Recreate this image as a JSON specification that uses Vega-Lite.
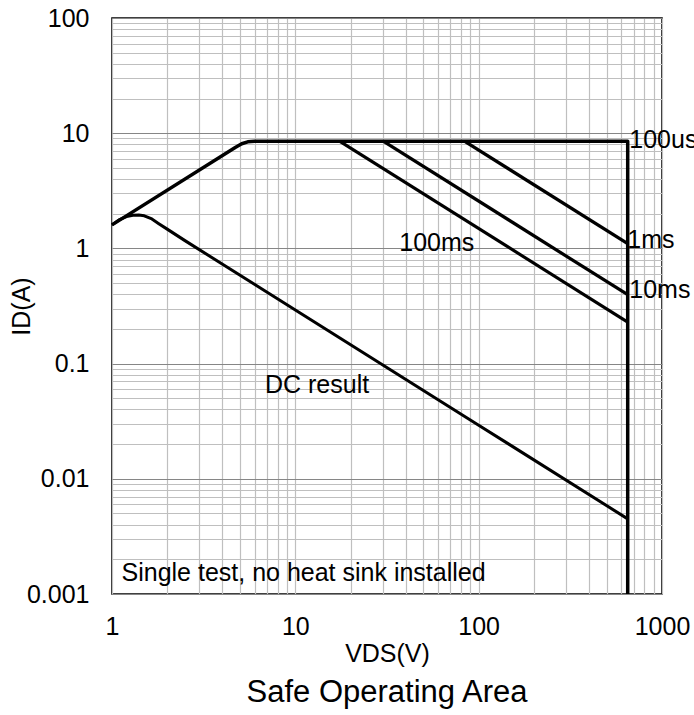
{
  "$schema": "https://vega.github.io/schema/vega-lite/v6.json",
  "width": 550,
  "height": 576,
  "autosize": {"type": "none"},
  "padding": {"left": 112, "top": 18, "right": 32, "bottom": 121},
  "config": {
    "view": {"stroke": "black", "strokeWidth": 1.6},
    "font": "Liberation Sans"
  },
  "title": {
    "text": "Safe Operating Area",
    "orient": "bottom",
    "anchor": "middle",
    "fontSize": 31,
    "fontWeight": "normal",
    "color": "black",
    "font": "Liberation Sans",
    "offset": 12
  },
  "datasets": {
    "curves": [
      {"s": "SOA", "k": 0, "v": 1, "i": 1.6},
      {"s": "SOA", "k": 1, "v": 4.7, "i": 7.52},
      {"s": "SOA", "k": 2, "v": 5.1, "i": 8.1},
      {"s": "SOA", "k": 3, "v": 5.5, "i": 8.42},
      {"s": "SOA", "k": 4, "v": 6.0, "i": 8.5},
      {"s": "SOA", "k": 5, "v": 650, "i": 8.5},
      {"s": "SOA", "k": 6, "v": 650, "i": 0.001},
      {"s": "1ms", "k": 0, "v": 84, "i": 8.5},
      {"s": "1ms", "k": 1, "v": 650, "i": 1.1},
      {"s": "10ms", "k": 0, "v": 30.3, "i": 8.5},
      {"s": "10ms", "k": 1, "v": 650, "i": 0.396},
      {"s": "100ms", "k": 0, "v": 17.5, "i": 8.5},
      {"s": "100ms", "k": 1, "v": 650, "i": 0.229},
      {"s": "DC", "k": 0, "v": 1, "i": 1.6},
      {"s": "DC", "k": 1, "v": 1.1, "i": 1.78},
      {"s": "DC", "k": 2, "v": 1.2, "i": 1.89},
      {"s": "DC", "k": 3, "v": 1.3, "i": 1.94},
      {"s": "DC", "k": 4, "v": 1.4, "i": 1.95},
      {"s": "DC", "k": 5, "v": 1.5, "i": 1.92},
      {"s": "DC", "k": 6, "v": 1.65, "i": 1.8},
      {"s": "DC", "k": 7, "v": 1.8, "i": 1.64},
      {"s": "DC", "k": 8, "v": 2, "i": 1.47},
      {"s": "DC", "k": 9, "v": 2.5, "i": 1.168},
      {"s": "DC", "k": 10, "v": 10, "i": 0.292},
      {"s": "DC", "k": 11, "v": 100, "i": 0.0292},
      {"s": "DC", "k": 12, "v": 650, "i": 0.00449}
    ],
    "labels": [
      {"t": "100us", "v": 663, "i": 8.78},
      {"t": "1ms", "v": 647, "i": 1.19},
      {"t": "10ms", "v": 663, "i": 0.438},
      {"t": "100ms", "v": 36.9, "i": 1.12},
      {"t": "DC result", "v": 6.83, "i": 0.0656},
      {"t": "Single test, no heat sink installed", "v": 1.127, "i": 0.00152}
    ]
  },
  "layer": [
    {
      "data": {"name": "curves"},
      "mark": {"type": "line", "color": "black", "strokeJoin": "round", "strokeCap": "butt"},
      "encoding": {
        "x": {
          "field": "v",
          "type": "quantitative",
          "scale": {"type": "log", "domain": [1, 1000], "nice": false},
          "axis": {
            "title": "VDS(V)",
            "values": [1,2,3,4,5,6,7,8,9,10,20,30,40,50,60,70,80,90,100,200,300,400,500,600,700,800,900,1000],
            "labelExpr": "indexof([1,10,100,1000], datum.value) >= 0 ? format(datum.value, '~g') : ''",
            "grid": true,
            "gridColor": "#bfbfbf",
            "gridWidth": 1.2,
            "ticks": false,
            "domain": false,
            "labelFontSize": 25,
            "labelPadding": 20,
            "labelFlush": false,
            "labelOverlap": false,
            "labelBound": false,
            "labelColor": "black",
            "titleFontSize": 25,
            "titleFontWeight": "normal",
            "titleColor": "black",
            "titlePadding": 2
          }
        },
        "y": {
          "field": "i",
          "type": "quantitative",
          "scale": {"type": "log", "domain": [0.001, 100], "nice": false},
          "axis": {
            "title": "ID(A)",
            "values": [0.001,0.002,0.003,0.004,0.005,0.006,0.007,0.008,0.009,0.01,0.02,0.03,0.04,0.05,0.06,0.07,0.08,0.09,0.1,0.2,0.3,0.4,0.5,0.6,0.7,0.8,0.9,1,2,3,4,5,6,7,8,9,10,20,30,40,50,60,70,80,90,100],
            "labelExpr": "indexof([0.001,0.01,0.1,1,10,100], datum.value) >= 0 ? format(datum.value, '~g') : ''",
            "grid": true,
            "gridColor": {"condition": {"test": "indexof([0.001,0.01,0.1,1,10,100], datum.value) >= 0", "value": "#868686"}, "value": "#bfbfbf"},
            "gridWidth": 1.2,
            "ticks": false,
            "domain": false,
            "labelFontSize": 25,
            "labelPadding": 23,
            "labelFlush": false,
            "labelOverlap": false,
            "labelBound": false,
            "labelColor": "black",
            "titleFontSize": 25,
            "titleFontWeight": "normal",
            "titleColor": "black",
            "titleX": -78
          }
        },
        "detail": {"field": "s", "type": "nominal"},
        "order": {"field": "k", "type": "quantitative"},
        "strokeWidth": {
          "field": "s",
          "type": "nominal",
          "scale": {"domain": ["SOA", "1ms", "10ms", "100ms", "DC"], "range": [3.5, 3, 3, 3, 2.5]},
          "legend": null
        }
      }
    },
    {
      "data": {"name": "labels"},
      "mark": {"type": "text", "align": "left", "baseline": "middle", "fontSize": 25, "font": "Liberation Sans", "color": "black"},
      "encoding": {
        "x": {"field": "v", "type": "quantitative"},
        "y": {"field": "i", "type": "quantitative"},
        "text": {"field": "t", "type": "nominal"}
      }
    }
  ]
}
